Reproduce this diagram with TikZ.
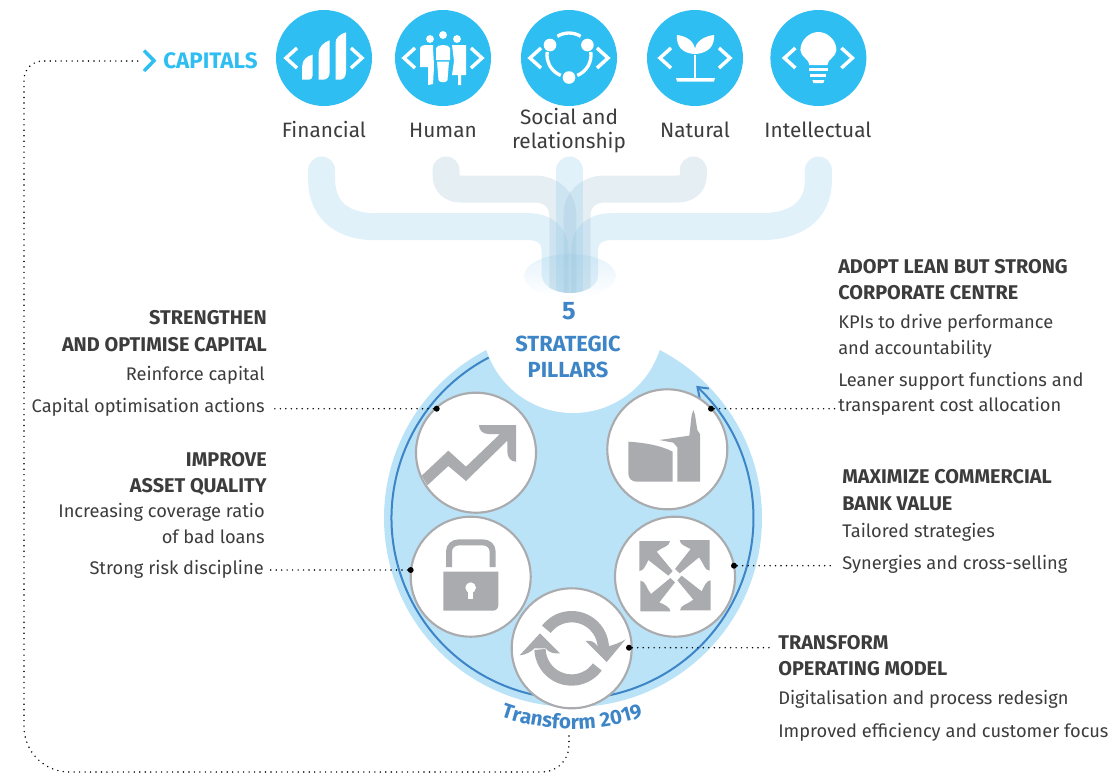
\documentclass[tikz,border=0pt]{standalone}
\usepackage{fontspec}
\setmainfont{Fira Sans}
\usetikzlibrary{positioning,arrows.meta,decorations.text}
\definecolor{capblue}{RGB}{47,190,242}
\definecolor{pillarblue}{RGB}{186,227,248}
\definecolor{darkblue}{RGB}{61,133,198}
\definecolor{icongray}{RGB}{170,171,174}
\definecolor{textgray}{RGB}{60,60,60}
\definecolor{pipeblue}{RGB}{143,203,236}
\definecolor{pipegray}{RGB}{157,191,211}
\tikzset{
	capcircle/.style={circle, fill=capblue, minimum size=72pt, inner sep=0pt},
	captext/.style={font=\fontsize{15.6}{18}\selectfont, text=textgray, align=center, inner sep=0pt},
	pillar/.style={circle, draw=icongray, fill=white, line width=1.6pt, minimum size=90pt, inner sep=0pt},
	pillardot/.style={circle, fill=black, minimum size=4.5pt, inner sep=0pt},
	headleft/.style={font=\fontsize{14.9}{20}\selectfont\bfseries, text=textgray, align=right, anchor=east, inner sep=0pt},
	headright/.style={font=\fontsize{14.9}{20}\selectfont\bfseries, text=textgray, align=left, anchor=west, inner sep=0pt},
	bodyleft/.style={font=\fontsize{13.7}{19.2}\selectfont, text=textgray, align=right, anchor=east, inner sep=0pt},
	bodyright/.style={font=\fontsize{13.7}{19.2}\selectfont, text=textgray, align=left, anchor=west, inner sep=0pt},
	bluetext/.style={font=\fontsize{16.4}{20}\selectfont\bfseries, text=darkblue, align=center, inner sep=0pt},
	dots/.style={line width=1.2pt, line cap=round, dash pattern=on 0pt off 4.1pt},
	pipe/.style={line width=20.25pt, line cap=round, draw=pipeblue, opacity=0.27},
	innerpipe/.style={line width=20.25pt, line cap=round, draw=pipegray, opacity=0.27},
	chevron/.style={draw=white, line width=2.6pt, line join=miter},
	iconpart/.style={fill=icongray, draw=none},
	capicon/.style={fill=white, draw=none}
}
\begin{document}
\begin{tikzpicture}[x=0.75pt, y=-0.75pt]
	\useasboundingbox (0,0) rectangle (1115,776);

	\fill[pillarblue] (573,518) circle (189);
	\begin{scope}
		\clip (573,518) circle (190);
		\fill[white] (573,322) circle (91);
	\end{scope}

	\shade[top color=pipeblue!22, bottom color=white] (570,276) ellipse (46 and 22);
	\begin{scope}
		\clip (250,150) -- (880,150) -- (880,276) -- (598,276) arc[start angle=0, end angle=180, x radius=28, y radius=17] -- (250,276) -- cycle;
		\draw[pipe] (321.7,170) -- (321.7,180) .. controls (321.7,212) and (345,226.7) .. (375,226.7) -- (530,226.7) .. controls (545,226.7) and (555,236) .. (555,250) -- (555,310);
		\draw[pipe] (818.4,170) -- (818.4,180) .. controls (818.4,212) and (795,226.7) .. (760,226.7) -- (610,226.7) .. controls (595,226.7) and (584.6,236) .. (584.6,250) -- (584.6,310);
		\draw[innerpipe] (446,170) -- (446,175) .. controls (446,184) and (452,189) .. (461,189) -- (534,189) .. controls (552,189) and (562.8,200) .. (562.8,215) -- (562.8,310);
		\draw[innerpipe] (693.3,170) -- (693.3,175) .. controls (693.3,184) and (687,189) .. (677,189) -- (605,189) .. controls (588,189) and (577,200) .. (577,215) -- (577,310);
		\draw[pipe] (569.7,170) -- (569.7,310);
	\end{scope}

	\node[capcircle] (financial) at (324,58) {};
	\node[capcircle] (human) at (443,58) {};
	\node[capcircle] (social) at (569,58) {};
	\node[capcircle] (natural) at (695,58) {};
	\node[capcircle] (intellectual) at (818.4,58) {};

	\foreach \capname/\capin/\capout in {financial/27/38, human/28/39, social/28/39, natural/24/35, intellectual/23/34} {
		\draw[chevron] ([shift={(-\capin,-10)}]\capname.center) -- ([shift={(-\capout,0)}]\capname.center) -- ([shift={(-\capin,10)}]\capname.center);
		\draw[chevron] ([shift={(\capin,-10)}]\capname.center) -- ([shift={(\capout,0)}]\capname.center) -- ([shift={(\capin,10)}]\capname.center);
	}

	\begin{scope}[shift={(financial.center)}]
		\fill[capicon] (-21.8,21.7) -- (-21.8,8) .. controls (-21.8,2) and (-17,-2) .. (-11.5,-3.3) -- (-11.5,18) .. controls (-11.5,20) and (-13,21.7) .. (-15,21.7) -- cycle;
		\fill[capicon] (-5.4,21.7) -- (-5.4,-5) .. controls (-5.4,-11) and (0,-16) .. (5.7,-17.7) -- (5.7,14) .. controls (5.7,19) and (3,21.7) .. (-1,21.7) -- cycle;
		\fill[capicon] (11.5,21.7) -- (11.5,-15) .. controls (11.5,-20) and (16,-24) .. (22,-25.7) -- (22,14) .. controls (22,19) and (19,21.7) .. (16,21.7) -- cycle;
	\end{scope}

	\begin{scope}[shift={(human.center)}]
		\fill[capicon] (-13,-19) circle (3.9) (0,-23) circle (3.9) (14,-19) circle (3.9);
		\fill[capicon] (-23,-9) .. controls (-23,-12) and (-20,-13) .. (-16,-13) -- (-10,-13) .. controls (-10,-5) and (-9,3) .. (-9,9) -- (-10,26) -- (-15,27) -- (-15,9) -- (-23,9) -- cycle;
		\fill[capicon] (-7,-10) .. controls (-6,-14) and (6,-14) .. (7,-10) -- (7,2) -- (-7,2) -- cycle;
		\fill[capicon] (-6,3.5) -- (6,3.5) -- (4.5,22) .. controls (4,25) and (-4,25) .. (-4.5,22) -- cycle;
		\fill[capicon] (9,-13) -- (23,-13) -- (23,17) -- (18,17) -- (18,27) -- (15,27) -- (15,17) -- (9,17) -- (11,3) -- cycle;
	\end{scope}

	\begin{scope}[shift={(social.center)}]
		\fill[capicon] (-19,-13) circle (6.3);
		\fill[capicon] (18.4,-13) circle (6.3);
		\fill[capicon] (0,19.5) circle (6.3);
		\draw[white, line width=2.5pt] (0,-3) ++(-122:22) arc[start angle=-122, end angle=-58, radius=22];
		\draw[white, line width=2.5pt] (0,-3) ++(-8:22) arc[start angle=-8, end angle=68, radius=22];
		\draw[white, line width=2.5pt] (0,-3) ++(112:22) arc[start angle=112, end angle=188, radius=22];
	\end{scope}

	\begin{scope}[shift={(natural.center)}]
		\fill[capicon] (-1.3,-3) rectangle (1.3,20);
		\fill[capicon] (-19,20) -- (20,20) -- (19,23.5) -- (-18,23.5) -- cycle;
		\fill[capicon] (-1,-4) .. controls (-13,-5) and (-19,-12) .. (-18,-23) .. controls (-9,-22) and (-1,-17) .. (0,-9) .. controls (1,-17) and (10,-22) .. (19,-23) .. controls (20,-12) and (13,-5) .. (1,-4) -- cycle;
	\end{scope}

	\begin{scope}[shift={(intellectual.center)}]
		\fill[capicon] (-9,7) .. controls (-9,1) and (-18,-1) .. (-18,-8) .. controls (-18,-18) and (-9,-26) .. (0,-26) .. controls (9,-26) and (18,-18) .. (18,-8) .. controls (18,-1) and (9,1) .. (9,7) -- cycle;
		\fill[capicon] (-9.5,10) rectangle (9.5,13);
		\fill[capicon] (-8,16) rectangle (8,18.5);
		\fill[capicon] (-6,22) -- (6,22) -- (5,25) -- (-5,25) -- cycle;
	\end{scope}

	\node[captext] (financiallabel) at (324,130) {Financial};
	\node[captext] (humanlabel) at (443,130) {Human};
	\node[captext] (sociallabel) at (569,131) {Social and\\relationship};
	\node[captext] (naturallabel) at (695,130) {Natural};
	\node[captext] (intellectuallabel) at (818,130) {Intellectual};

	\node[font=\fontsize{16.8}{18}\selectfont\bfseries, text=capblue, anchor=west, inner sep=0pt] (capitals) at (163,61) {CAPITALS};
	\coordinate (capitalsin) at (143,61);

	\draw[darkblue, line width=1.5pt, -{Straight Barb[length=7pt, width=10pt]}] (572.5,518) ++(-117.6:181) arc[start angle=-117.6, end angle=-406.9, radius=181];

	\node[bluetext, font=\fontsize{19}{20}\selectfont\bfseries] (five) at (569,311) {5};
	\node[bluetext] (pillars) at (568,357) {STRATEGIC\\PILLARS};

	\node[pillar] (trend) at (476,452.7) {};
	\node[pillar] (building) at (667.3,449.3) {};
	\node[pillar] (lock) at (470.7,576.7) {};
	\node[pillar] (expand) at (675,576.7) {};
	\node[pillar] (refresh) at (571.7,648.3) {};

	\begin{scope}[shift={(380,330)}, x=0.25pt, y=-0.25pt]
		\fill[iconpart] (125,437) -- (205,362) -- (258,410) -- (360,312) -- (325,312) .. controls (308,312) and (297,300) .. (297,285) -- (408,285) -- (408,395) .. controls (392,395) and (382,382) .. (382,365) -- (382,332) -- (258,453) -- (205,408) -- (142,466) -- cycle;
		\fill[iconpart] (745,335) .. controls (790,338) and (840,345) .. (878,365) -- (878,455) -- (770,455) .. controls (755,455) and (745,445) .. (745,430) -- cycle;
		\fill[iconpart] (838,330) -- (928,317) -- (935,255) -- (940,240) -- (945,255) -- (952,300) -- (960,312) -- (960,455) -- (892,455) -- (892,352) -- (880,338) -- cycle;
		\fill[iconpart] (190,725) -- (355,725) -- (355,825) .. controls (355,836) and (348,842) .. (338,842) -- (190,842) -- cycle;
		\fill[white] (272,773) circle (16);
		\fill[white] (265,773) rectangle (279,808);
		\draw[icongray, line width=4.5pt] (207,711) -- (207,665) .. controls (207,648) and (220,637) .. (237,637) -- (308,637) .. controls (325,637) and (338,648) .. (338,665) -- (338,711);
		\foreach \expandrot in {0,90,180,270} {
			\begin{scope}[shift={(885,737)}, rotate=\expandrot]
				\fill[iconpart] (-107,-104) -- (-15,-104) .. controls (-15,-88) and (-40,-85) .. (-55,-72) -- (-7,-14) -- (-20,0) -- (-80,-47) .. controls (-88,-30) and (-95,-14) .. (-107,-14) -- cycle;
			\end{scope}
		}
		\draw[icongray, line width=8.5pt] (575,955) ++(-143:95) arc[start angle=-143, end angle=0, radius=95];
		\fill[iconpart] (617,933) .. controls (630,930) and (645,935) .. (652,948) -- (688,948) .. controls (700,945) and (720,938) .. (737,928) -- (680,996) -- cycle;
		\draw[icongray, line width=8.5pt] (575,955) ++(36:95) arc[start angle=36, end angle=178, radius=95];
		\fill[iconpart] (540,970) .. controls (525,972) and (505,968) .. (497,955) -- (463,955) .. controls (455,965) and (435,975) .. (419,976) -- (480,910) -- cycle;
	\end{scope}

	\draw[decorate, decoration={text along path, text={|\fontsize{15.4}{16}\selectfont\bfseries|Transform 2019}, text align=center, text color=darkblue}] (572,518) ++(110:211) arc[start angle=110, end angle=70, radius=211];

	\node[pillardot] (trenddot) at (436.7,408.7) {};
	\node[pillardot] (buildingdot) at (711,408.7) {};
	\node[pillardot] (lockdot) at (410.7,570) {};
	\node[pillardot] (expanddot) at (734,565.7) {};
	\node[pillardot] (refreshdot) at (629,647.7) {};

	\coordinate (trendend) at (272,408.7);
	\coordinate (buildingend) at (838,408.7);
	\coordinate (lockend) at (270,570);
	\coordinate (expandend) at (832,565.7);
	\coordinate (refreshend) at (772,647.7);
	\coordinate (loopstart) at (569,736);

	\draw[dots] (trenddot) -- (trendend);
	\draw[dots] (buildingdot) -- (buildingend);
	\draw[dots] (lockdot) -- (lockend);
	\draw[dots] (expanddot) -- (expandend);
	\draw[dots] (refreshdot) -- (refreshend);
	\draw[dots, rounded corners=20pt] (loopstart) -- (569,772) [rounded corners=34pt] -- (24,772) -- (24,400) [rounded corners=14pt] -- (24,61) -- (capitalsin);
	\draw[capblue, line width=2.6pt] (144,50.5) -- (154,60.7) -- (144,71);

	\node[headleft] (capitalhead) at (267,331) {STRENGTHEN\\AND OPTIMISE CAPITAL};
	\node[bodyleft] (capitalone) at (265,375.5) {Reinforce capital};
	\node[bodyleft] (capitaltwo) at (265,407) {Capital optimisation actions};

	\node[headleft] (assethead) at (267,474) {IMPROVE\\ASSET QUALITY};
	\node[bodyleft] (assetone) at (265,523.5) {Increasing coverage ratio\\of bad loans};
	\node[bodyleft] (assettwo) at (264,569.5) {Strong risk discipline};

	\node[headright] (leanhead) at (838,279.5) {ADOPT LEAN BUT STRONG\\CORPORATE CENTRE};
	\node[bodyright] (leanone) at (838,336.5) {KPIs to drive performance\\and accountability};
	\node[bodyright] (leantwo) at (838,394) {Leaner support functions and\\transparent cost allocation};

	\node[headright] (commercialhead) at (842,490) {MAXIMIZE COMMERCIAL\\BANK VALUE};
	\node[bodyright] (commercialone) at (842,532.5) {Tailored strategies};
	\node[bodyright] (commercialtwo) at (842,564.5) {Synergies and cross-selling};

	\node[headright] (operatinghead) at (778,655.5) {TRANSFORM\\OPERATING MODEL};
	\node[bodyright] (operatingone) at (778,699.5) {Digitalisation and process redesign};
	\node[bodyright] (operatingtwo) at (778,732.5) {Improved efficiency and customer focus};
\end{tikzpicture}
\end{document}
